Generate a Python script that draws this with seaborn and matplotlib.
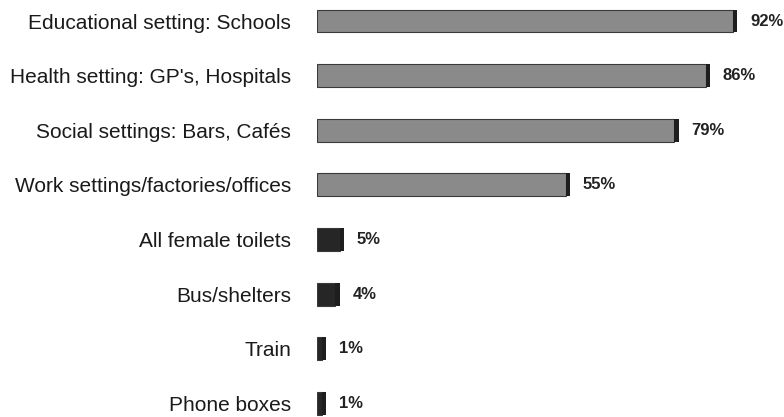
import matplotlib
matplotlib.use("Agg")
import matplotlib.pyplot as plt
from matplotlib.patches import Rectangle
import seaborn as sns
import pandas as pd

# Where people say they would use the facility (% of respondents)
categories = [
    "Educational setting: Schools",
    "Health setting: GP's, Hospitals",
    "Social settings: Bars, Cafés",
    "Work settings/factories/offices",
    "All female toilets",
    "Bus/shelters",
    "Train",
    "Phone boxes",
]
percentages = [92, 86, 79, 55, 5, 4, 1, 1]
groups = ["major", "major", "major", "major", "minor", "minor", "minor", "minor"]

df = pd.DataFrame({"setting": categories, "pct": percentages, "group": groups})

sns.set_theme(style="white")
plt.rcParams["font.family"] = ["Liberation Sans", "DejaVu Sans"]

fig = plt.figure(figsize=(7.84, 4.17), dpi=100)
ax = fig.add_axes([317 / 784, 0.0, 452 / 784, 1.0])

palette = {"major": "#8a8a8a", "minor": "#262626"}
sns.barplot(
    data=df, x="pct", y="setting", hue="group", palette=palette,
    orient="h", width=0.42, dodge=False, legend=False,
    edgecolor="#3a3a3a", linewidth=0.8, ax=ax,
)

# dark end faces give the bars a slight 3-D look
cap = 1.0
for p in ax.patches[:]:
    x_end = p.get_x() + p.get_width()
    ax.add_patch(Rectangle((x_end, p.get_y()), cap, p.get_height(),
                           facecolor="#1e1e1e", edgecolor="none", zorder=3))

for i, v in enumerate(percentages):
    ax.text(v + cap + 2.8, i, f"{v}%", va="center", ha="left",
            fontsize=12, fontweight="bold", color="#222222")

ax.set_xlim(0, 100)
ax.set_ylim(7.25, -0.385)
ax.set_xlabel("")
ax.set_ylabel("")
ax.set_xticks([])
ax.tick_params(axis="y", length=0, pad=18.5, labelsize=15, labelcolor="#1a1a1a")
sns.despine(ax=ax, left=True, bottom=True)

fig.savefig("out.png", dpi=100)
